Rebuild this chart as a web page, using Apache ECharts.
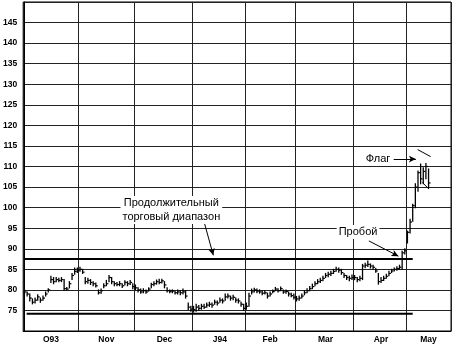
<!DOCTYPE html>
<html>
<head>
<meta charset="utf-8">
<script src="https://cdn.jsdelivr.net/npm/echarts@6/dist/echarts.min.js"></script>
<style>
  html, body { margin: 0; padding: 0; background: #fff; }
  #chart { width: 453px; height: 353px; }
</style>
</head>
<body>
<div id="chart"></div>
<script>
// months shown on the time axis and how many trading days each one holds
const monthLabels = ['O93', 'Nov', 'Dec', 'J94', 'Feb', 'Mar', 'Apr', 'May'];
const monthDays = [21, 21, 22, 20, 19, 22, 20, 17];

// daily bars, one value per trading day (Oct 93 .. May 94)
const highs = [
  80, 79.5, 79, 77.8, 78, 78.8, 78, 78.5, 79.5, 80.3, 83.3, 83, 83, 82.8, 83, 82.5, 80.6, 82, 84, 85.3, 85.3,
  85.5, 85, 83, 82.8, 82.5, 82, 81.7, 80, 80.2, 81.5, 82.3, 83.5, 83, 82, 81.8, 82, 81.5, 82.2, 82, 82.3, 81.5,
  81.2, 80.5, 80.2, 80.3, 80, 80.5, 81.6, 82, 82.4, 82.6, 82.6, 82, 80.5, 80, 80, 79.7, 80, 79.8, 80.2, 79.8, 76.8, 76,
  76, 76.5, 76.2, 76.5, 76.5, 76.8, 77, 76.8, 77.5, 77.3, 78, 77.8, 79, 79, 78.5, 78.7, 78, 77.8, 77, 76.5,
  76.8, 79.2, 80.2, 80.4, 80.2, 80, 79.7, 79.8, 79.2, 79.5, 80, 80.6, 80.3, 80.7, 80, 80, 79.5, 79.2, 79,
  78.4, 78.5, 79, 79.8, 80.3, 80.8, 81.4, 82, 82.5, 82.8, 83.3, 84, 84.3, 84.5, 85, 85.5, 85.3, 85, 84, 83.5, 83.3, 83.6,
  83.5, 83, 83.3, 86.2, 86.5, 87, 86.3, 86, 85.2, 84, 83, 83.3, 83.8, 84.5, 85, 85.3, 85.6, 86, 89.4, 90,
  94.3, 97.2, 100.8, 105.8, 108.9, 110.6, 109.7, 110.7, 109.4
];
const lows = [
  79, 78.5, 77.3, 76.6, 76.8, 77.5, 77, 77.5, 78.5, 79.5, 81.8, 81.5, 82, 82, 82, 80, 80, 80.5, 82.5, 83.8, 84.2,
  84.5, 84, 81.5, 81.6, 81.3, 81, 80.7, 79, 79.2, 80.5, 81, 82, 81.5, 81, 81, 81, 80.6, 81.2, 81, 81.3, 80.3,
  80, 79.5, 79.2, 79.3, 79.2, 79.7, 80.5, 81, 81.4, 81.5, 81.7, 80.5, 79.5, 79.3, 79.3, 79, 79, 78.8, 79, 78, 75.2, 74.8,
  74.6, 74.8, 75, 75.3, 75.5, 75.8, 76, 75.8, 76.5, 76.3, 77, 76.8, 77.5, 78, 77.5, 77.6, 77, 76.8, 76, 75,
  75.3, 76, 79, 79.5, 79.3, 79.2, 78.8, 79, 78, 78.5, 79.3, 79.8, 79.5, 79.8, 79.2, 79.2, 78.5, 78.3, 77.8,
  77.3, 77.5, 78, 78.8, 79.3, 79.8, 80.3, 81, 81.5, 81.8, 82.2, 83, 83.2, 83.5, 84, 84.5, 84.3, 83.8, 83, 82.5, 82.2, 82.5,
  82.5, 82, 82.2, 82.5, 85.4, 85.7, 85.3, 85, 84.3, 81.4, 81.8, 82.3, 82.8, 83.5, 84.2, 84.6, 84.8, 85, 85, 88.7,
  91.4, 93.8, 96.7, 100, 104, 105.8, 105.8, 107, 104.8
];
const closes = [
  79.5, 79, 78, 77, 77.5, 78.3, 77.5, 78, 79, 80, 82.5, 82, 82.5, 82.3, 82.5, 80.3, 80.2, 81.5, 83.5, 84.5, 84.8,
  85, 84.3, 82, 82.3, 81.8, 81.5, 81, 79.3, 79.8, 81, 81.5, 83, 82, 81.5, 81.3, 81.5, 81, 81.8, 81.5, 81.8, 80.8,
  80.5, 80, 79.5, 79.8, 79.5, 80.2, 81.3, 81.5, 82, 81.8, 82.2, 81.2, 79.8, 79.6, 79.7, 79.3, 79.5, 79.3, 79.5, 78.5, 75.8, 75.3,
  75.2, 75.8, 75.5, 76, 75.8, 76.3, 76.5, 76.3, 77, 76.8, 77.5, 77.3, 78.3, 78.5, 78, 78.2, 77.5, 77.3, 76.5, 75.5,
  76, 78.5, 79.5, 80, 79.7, 79.5, 79.2, 79.3, 78.5, 79, 79.6, 80.2, 79.8, 80.3, 79.5, 79.6, 79, 78.6, 78.2,
  77.8, 78, 78.5, 79.3, 79.8, 80.3, 80.8, 81.5, 82, 82.3, 82.8, 83.5, 83.8, 84, 84.5, 85, 84.8, 84.2, 83.5, 83, 82.8, 83,
  83, 82.5, 82.8, 85.8, 86, 86.2, 85.8, 85.5, 84.6, 82, 82.3, 82.8, 83.3, 84, 84.6, 85, 85.2, 85.5, 89, 89.5,
  94, 96.5, 100.5, 105, 108.5, 107, 108.8, 110, 106
];

// trading range borders: [start day, end day, price]
const resistance = [0, 147, 87.5];
const support = [0.8, 147, 74.2];

// annotation texts: [text, day, price]
const notes = [
  ['Продолжительный\nторговый диапазон', 55.6, 99.4],
  ['Пробой', 126.3, 94.1],
  ['Флаг', 133.9, 111.9]
];
// arrows and flag lines: [day1, price1, day2, price2]
const arrows = [
  [68.1, 96.3, 71.5, 88.4],
  [130.4, 91.9, 141.6, 88.2],
  [139.8, 111.8, 148.2, 111.8]
];
const flagLines = [
  [148.9, 114.1, 153.8, 112.4],
  [150.7, 106.1, 153.2, 104.5]
];

const totalDays = monthDays.reduce((a, b) => a + b, 0);
const categories = [];
for (let i = 0; i < totalDays; i++) categories.push(String(i));

const monthStarts = new Set();
const weekTicks = new Set();
const labelAt = new Map();
let start = 0;
monthDays.forEach((n, m) => {
  monthStarts.add(start);
  for (let k = 0; k * 4.2 < n - 0.5; k++) weekTicks.add(start + Math.round(k * 4.2));
  labelAt.set(start + Math.floor(n / 2), monthLabels[m]);
  start += n;
});

const bars = highs.map((h, i) => [i, h, lows[i], closes[i]]);

const chart = echarts.init(document.getElementById('chart'));

const tickFont = { fontFamily: 'Liberation Sans', fontWeight: 'bold', color: '#000' };

chart.setOption({
  animation: false,
  backgroundColor: '#fff',
  grid: { left: 21, right: 2, top: 2, bottom: 22, show: true, borderColor: '#000', borderWidth: 1 },
  xAxis: [
    {
      type: 'category',
      data: categories,
      boundaryGap: true,
      axisLine: { lineStyle: { color: '#000', width: 1 } },
      axisTick: { interval: (i) => weekTicks.has(i), length: 3, lineStyle: { color: '#000' } },
      splitLine: { show: true, interval: (i) => monthStarts.has(i), lineStyle: { color: '#222', width: 1 } },
      axisLabel: {
        ...tickFont,
        fontSize: 8.5,
        margin: 4,
        interval: (i) => labelAt.has(i),
        formatter: (v) => labelAt.get(Number(v)) || ''
      }
    },
    {
      type: 'category',
      data: categories,
      boundaryGap: true,
      axisLine: { show: false },
      axisTick: { inside: true, interval: (i) => weekTicks.has(i), length: 2, lineStyle: { color: '#000' } },
      axisLabel: { show: false },
      splitLine: { show: false }
    },
    {
      type: 'value',
      min: -0.5,
      max: totalDays - 0.5,
      show: false
    }
  ],
  yAxis: {
    type: 'value',
    min: 70,
    max: 150,
    interval: 5,
    axisLine: { show: true, lineStyle: { color: '#000', width: 1 } },
    axisTick: { show: false },
    splitLine: { show: true, lineStyle: { color: '#222', width: 1 } },
    axisLabel: { ...tickFont, fontSize: 8.5, margin: 6, showMinLabel: false, showMaxLabel: false }
  },
  series: [
    {
      type: 'custom',
      xAxisIndex: 0,
      data: bars,
      encode: { x: 0, y: [1, 2, 3] },
      z: 5,
      renderItem: (params, api) => {
        const i = api.value(0);
        const hi = api.coord([i, api.value(1)]);
        const lo = api.coord([i, api.value(2)]);
        const cl = api.coord([i, api.value(3)]);
        return {
          type: 'group',
          children: [
            { type: 'line', shape: { x1: hi[0], y1: hi[1] - 0.5, x2: lo[0], y2: lo[1] + 0.5 }, style: { stroke: '#000', lineWidth: 1.3 } },
            { type: 'line', shape: { x1: cl[0], y1: cl[1], x2: cl[0] + 2, y2: cl[1] }, style: { stroke: '#000', lineWidth: 1.2 } }
          ]
        };
      }
    },
    {
      type: 'line',
      xAxisIndex: 2,
      data: [[resistance[0], resistance[2]], [resistance[1], resistance[2]]],
      symbol: 'none',
      lineStyle: { color: '#000', width: 2 },
      z: 4
    },
    {
      type: 'line',
      xAxisIndex: 2,
      data: [[support[0], support[2]], [support[1], support[2]]],
      symbol: 'none',
      lineStyle: { color: '#000', width: 2 },
      z: 4,
      markLine: {
        silent: true,
        symbol: ['none', 'arrow'],
        symbolSize: [5, 7],
        label: { show: false },
        lineStyle: { color: '#000', width: 1, type: 'solid' },
        data: arrows.map(a => [{ coord: [a[0], a[1]] }, { coord: [a[2], a[3]] }])
          .concat(flagLines.map(a => [
            { coord: [a[0], a[1]], symbol: 'none' },
            { coord: [a[2], a[3]], symbol: 'none' }
          ]))
      },
      markPoint: {
        silent: true,
        symbol: 'circle',
        symbolSize: 0,
        data: notes.map(n => ({
          coord: [n[1], n[2]],
          label: {
            show: true,
            position: 'inside',
            formatter: n[0],
            fontFamily: 'Liberation Sans',
            fontSize: 11,
            lineHeight: 14,
            align: 'center',
            color: '#000',
            backgroundColor: '#fff',
            padding: [0, 2]
          }
        }))
      }
    }
  ]
});
</script>
</body>
</html>
